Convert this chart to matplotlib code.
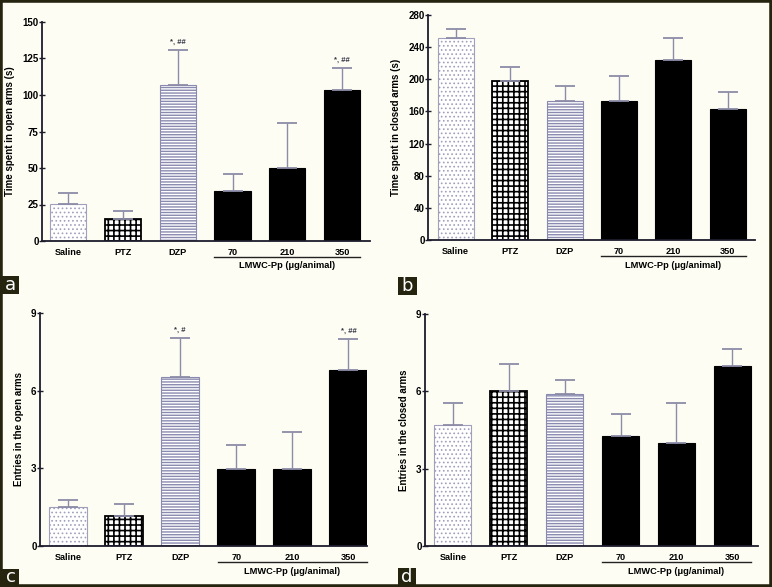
import matplotlib
matplotlib.use("Agg")
import matplotlib.pyplot as plt
from matplotlib.patches import Rectangle
from matplotlib.transforms import ScaledTranslation

plt.rcParams["font.family"] = ["Liberation Sans", "DejaVu Sans"]

groups = ["Saline", "PTZ", "DZP", "70", "210", "350"]
dose_label = "LMWC-Pp (\u03bcg/animal)"

# a: time in open arms
open_time = [25.3, 14.8, 107, 34.4, 49.7, 103.3]
open_time_err = [7.7, 5.5, 23.6, 11.2, 31.2, 15.0]
open_time_sig = ["", "", "*, ##", "", "", "*, ##"]

# b: time in closed arms
closed_time = [251, 198, 173, 173, 224, 163]
closed_time_err = [11.6, 17, 18.3, 31, 28, 21]
closed_time_sig = ["", "", "", "", "", ""]

# c: entries in open arms
open_entries = [1.51, 1.16, 6.51, 2.99, 2.99, 6.8]
open_entries_err = [0.28, 0.48, 1.53, 0.91, 1.43, 1.19]
open_entries_sig = ["", "", "*, #", "", "", "*, ##"]

# d: entries in closed arms
closed_entries = [4.68, 6.0, 5.89, 4.26, 4.0, 7.0]
closed_entries_err = [0.88, 1.06, 0.55, 0.85, 1.56, 0.65]
closed_entries_sig = ["", "", "", "", "", ""]

W, H = 772, 587
BG = "#fdfdf4"
DARK = "#25250f"
AXC = "#1c1c2c"
ERRC = "#8c8ca8"

fig = plt.figure(figsize=(W / 100, H / 100), dpi=100, facecolor=BG)


def px_axes(x0, x1, yt, yb):
    return fig.add_axes([x0 / W, 1 - yb / H, (x1 - x0) / W, (yb - yt) / H])


styles = [
    dict(color="white", edgecolor="#a0a0bc", hatch="....", lw=0.8, hlw=0.7),
    dict(color="white", edgecolor="black", hatch="+++", lw=1.3, hlw=1.2),
    dict(color="white", edgecolor="#8a8ab0", hatch="------", lw=0.8, hlw=1.0),
    dict(color="black", edgecolor="black", hatch=None, lw=0.8, hlw=1.0),
    dict(color="black", edgecolor="black", hatch=None, lw=0.8, hlw=1.0),
    dict(color="black", edgecolor="black", hatch=None, lw=0.8, hlw=1.0),
]


def panel(rect, vals, errs, sig, ylim, yticks, ylabel, xlim, width, letter, box):
    ax = px_axes(*rect)
    ax.set_facecolor(BG)
    x = list(range(len(vals)))
    for xi, v, st in zip(x, vals, styles):
        with plt.rc_context({"hatch.linewidth": st["hlw"]}):
            ax.bar(xi, v, width=width, color=st["color"], edgecolor=st["edgecolor"],
                   hatch=st["hatch"], linewidth=st["lw"], zorder=2)
    ax.errorbar(x, vals, yerr=[[0] * len(errs), errs], fmt="none", ecolor=ERRC,
                elinewidth=1.0, capsize=7, capthick=1.3, zorder=3)
    for xi, v, e, s in zip(x, vals, errs, sig):
        if s:
            ax.annotate(s, (xi, v + e), xytext=(0, 3), textcoords="offset points",
                        ha="center", va="bottom", fontsize=5.5, fontweight="bold",
                        color="#333344")
    ax.set_ylim(*ylim)
    ax.set_xlim(*xlim)
    ax.set_yticks(yticks)
    ax.set_xticks(x)
    ax.set_xticklabels(groups, fontsize=6.6, fontweight="bold")
    for lab in ax.get_yticklabels():
        lab.set_fontweight("bold")
    ax.tick_params(axis="y", labelsize=7, length=4, width=1, color=AXC, pad=0.5,
                   direction="inout")
    ax.tick_params(axis="x", length=0, pad=5)
    ax.set_ylabel(ylabel, fontsize=7, fontweight="bold", labelpad=5)
    for sp in ["top", "right"]:
        ax.spines[sp].set_visible(False)
    for sp in ["left", "bottom"]:
        ax.spines[sp].set_color(AXC)
        ax.spines[sp].set_linewidth(1.3)
    tr = ax.get_xaxis_transform()
    line_tr = tr + ScaledTranslation(0, -0.16, fig.dpi_scale_trans)
    ax.plot([3 - 0.33, 5 + 0.33], [0, 0], color="#222222", lw=1, transform=line_tr,
            clip_on=False)
    text_tr = tr + ScaledTranslation(0, -0.205, fig.dpi_scale_trans)
    ax.text(4, 0, dose_label, ha="center", va="top", fontsize=6.7,
            fontweight="bold", transform=text_tr)
    bx0, bx1, by0, by1 = box
    fig.patches.append(Rectangle((bx0 / W, 1 - by1 / H), (bx1 - bx0) / W,
                                 (by1 - by0) / H, transform=fig.transFigure,
                                 facecolor=DARK, edgecolor="none", zorder=5))
    fig.text((bx0 + bx1) / 2 / W, 1 - (by0 + by1) / 2 / H, letter, color="white",
             fontsize=13, ha="center", va="center", zorder=6,
             family=["DejaVu Sans"])
    return ax


panel((42, 370, 22, 241), open_time, open_time_err, open_time_sig,
      (0, 150), [0, 25, 50, 75, 100, 125, 150], "Time spent in open arms (s)",
      (-0.48, 5.51), 0.66, "a", (2, 19, 276, 294))
panel((428, 755, 15, 240), closed_time, closed_time_err, closed_time_sig,
      (0, 280), [0, 40, 80, 120, 160, 200, 240, 280], "Time spent in closed arms (s)",
      (-0.51, 5.5), 0.66, "b", (398, 417, 277, 295))
panel((40, 367, 313, 546), open_entries, open_entries_err, open_entries_sig,
      (0, 9), [0, 3, 6, 9], "Entries in the open arms",
      (-0.5, 5.33), 0.68, "c", (2, 19, 569, 586))
panel((425, 758, 314, 546), closed_entries, closed_entries_err, closed_entries_sig,
      (0, 9), [0, 3, 6, 9], "Entries in the closed arms",
      (-0.5, 5.46), 0.66, "d", (398, 416, 568, 586))

# outer frame
fig.patches.append(Rectangle((0, 0), 1, 1, transform=fig.transFigure, fill=False,
                             edgecolor=DARK, linewidth=4, zorder=7))

fig.savefig("out.png", dpi=100, facecolor=BG)
